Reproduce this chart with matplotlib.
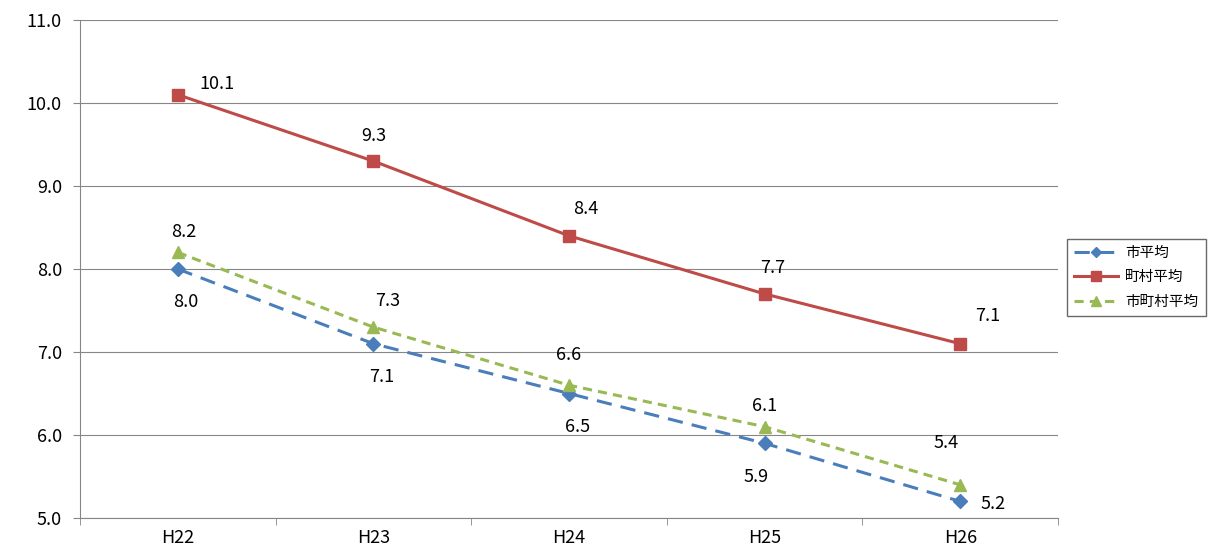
import matplotlib.pyplot as plt
import numpy as np

plt.rcParams['font.family'] = ['Noto Sans CJK JP', 'DejaVu Sans']

years = ['H22', 'H23', 'H24', 'H25', 'H26']
city = [8.0, 7.1, 6.5, 5.9, 5.2]
town = [10.1, 9.3, 8.4, 7.7, 7.1]
all_avg = [8.2, 7.3, 6.6, 6.1, 5.4]

fig = plt.figure(figsize=(12.11, 5.59), dpi=100)
ax = fig.add_axes([80 / 1211, 1 - 518 / 559, 978 / 1211, 498 / 559])
x = np.arange(len(years))

ax.plot(x, city, color='#4a7ebb', lw=2.2, ls=(0, (5, 3)), marker='D', ms=7, label='市平均')
ax.plot(x, town, color='#be4b48', lw=2.2, marker='s', ms=9, label='町村平均')
ax.plot(x, all_avg, color='#98b954', lw=2.2, ls=(0, (3, 2)), marker='^', ms=9, label='市町村平均')

town_off = [(28, 8), (0, 18), (12, 19), (6, 19), (20, 20)]
city_off = [(6, -24), (6, -24), (6, -24), (-6, -24), (24, -2)]
all_off = [(4, 15), (10, 19), (0, 22), (0, 15), (-10, 30)]
lbl = dict(textcoords='offset points', ha='center', va='center', fontsize=13)
for i in range(len(x)):
    ax.annotate(f'{town[i]:.1f}', (x[i], town[i]), xytext=town_off[i], **lbl)
    ax.annotate(f'{all_avg[i]:.1f}', (x[i], all_avg[i]), xytext=all_off[i], **lbl)
    ax.annotate(f'{city[i]:.1f}', (x[i], city[i]), xytext=city_off[i], **lbl)

ax.set_xlim(-0.5, 4.5)
ax.set_ylim(5, 11)
ax.set_yticks(np.arange(5, 11.01, 1))
ax.set_yticklabels([f'{v:.1f}' for v in np.arange(5, 11.01, 1)], fontsize=13)
ax.set_xticks(x)
ax.set_xticklabels(years, fontsize=13)
ax.set_xticks(np.arange(-0.5, 4.6, 1), minor=True)
ax.tick_params(axis='x', which='major', length=0, pad=8)
ax.tick_params(axis='x', which='minor', length=5, color='#868686')
ax.tick_params(axis='y', length=5, color='#868686', pad=8)
ax.grid(axis='y', color='#868686', lw=0.8)
ax.set_axisbelow(True)
for s in ['top', 'right']:
    ax.spines[s].set_visible(False)
for s in ['left', 'bottom']:
    ax.spines[s].set_color('#868686')

fig.legend(loc='upper left', bbox_to_anchor=(1064 / 1211, 1 - 236 / 559), fontsize=10.5,
           frameon=True, fancybox=False, edgecolor='#444444', borderpad=0.5, handlelength=3,
           handletextpad=0.5, borderaxespad=0.2, markerscale=0.8, labelspacing=0.7)

fig.savefig('out.png', dpi=100)
